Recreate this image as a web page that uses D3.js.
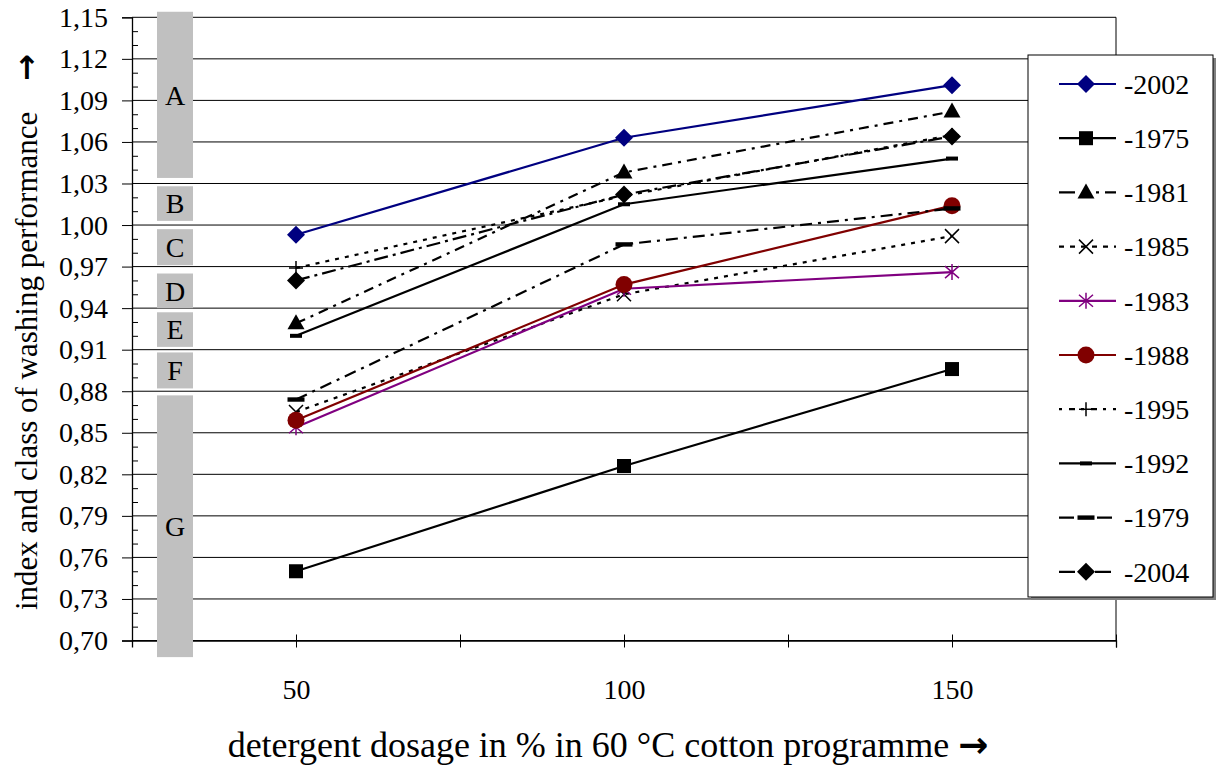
<!DOCTYPE html>
<html><head><meta charset="utf-8">
<script src="https://cdn.jsdelivr.net/npm/d3@7"></script>
<style>body{margin:0;background:#fff}svg{display:block}</style>
</head><body>
<svg id="c" width="1218" height="769"></svg>
<script>
// ---------- data ----------
const doses = [50, 100, 150];
const xTickValues = [50, 75, 100, 125, 150, 175];
const xTickLabels = [50, 100, 150];
const yTickValues = [0.70, 0.73, 0.76, 0.79, 0.82, 0.85, 0.88, 0.91, 0.94, 0.97, 1.00, 1.03, 1.06, 1.09, 1.12, 1.15];

const classNames = ["A", "B", "C", "D", "E", "F", "G"];
const classBarTop = [1.154, 1.028, 0.997, 0.965, 0.937, 0.908, 0.877];
const classBarBottom = [1.034, 1.003, 0.971, 0.940, 0.912, 0.882, 0.688];

const seriesNames = ["-2002", "-1975", "-1981", "-1985", "-1983", "-1988", "-1995", "-1992", "-1979", "-2004"];
const v2002 = [0.993, 1.063, 1.101];
const v1975 = [0.750, 0.826, 0.896];
const v1981 = [0.929, 1.038, 1.082];
const v1985 = [0.865, 0.950, 0.992];
const v1983 = [0.854, 0.954, 0.966];
const v1988 = [0.859, 0.957, 1.014];
const v1995 = [0.969, 1.021, 1.065];
const v1992 = [0.920, 1.015, 1.048];
const v1979 = [0.874, 0.986, 1.012];
const v2004 = [0.960, 1.022, 1.064];

const seriesValues = [v2002, v1975, v1981, v1985, v1983, v1988, v1995, v1992, v1979, v2004];
const seriesColors = ["#000080", "#000", "#000", "#000", "#800080", "#800000", "#000", "#000", "#000", "#000"];
const seriesMarkers = ["diamond", "square", "triangle", "x", "star", "circle", "plus", "dash", "longdash", "diamond"];
const seriesDash = [null, null, "10,6,3,6", "4,6", null, null, "4,6", null, "12,6,3,6", "14,5,3,5"];
const legendDash = [null, null, "16,10,5,6,3,6", "5,6", null, null, "3,7,6,6", null, "15,4", "16,10,4,6"];

// ---------- layout ----------
const svg = d3.select("#c");
const font = "'Liberation Serif', 'Times New Roman', 'DejaVu Serif', serif";
const x = d3.scaleLinear().domain([25, 175]).range([132, 1116]);
const y = d3.scaleLinear().domain([0.70, 1.15]).range([640.5, 17.3]);

// gridlines
svg.append("g").selectAll("line").data(yTickValues).join("line")
  .attr("x1", x(25)).attr("x2", x(175))
  .attr("y1", d => y(d)).attr("y2", d => y(d))
  .attr("stroke", "#000").attr("stroke-width", 1);
svg.append("line").attr("x1", x(175)).attr("x2", x(175)).attr("y1", y(1.15)).attr("y2", y(0.70))
  .attr("stroke", "#000").attr("stroke-width", 1);

// x axis
const xAxis = svg.append("g").attr("transform", `translate(0,${y(0.70)})`)
  .call(d3.axisBottom(x).tickValues(xTickValues).tickSizeOuter(0).tickSize(7)
    .tickFormat(d => xTickLabels.includes(d) ? d : ""));
xAxis.attr("font-family", null).attr("font-size", null);
xAxis.select(".domain").attr("stroke-width", 1.3);
xAxis.selectAll(".tick line").attr("y1", -6).attr("y2", 7);
xAxis.selectAll(".tick text").attr("y", 49).attr("dy", "0.35em").attr("fill", "#000")
  .style("font-family", font).style("font-size", "28px");

// class bars
const bars = svg.append("g");
classNames.forEach((c, i) => {
  bars.append("rect").attr("x", 157).attr("width", 36)
    .attr("y", y(classBarTop[i])).attr("height", y(classBarBottom[i]) - y(classBarTop[i]))
    .attr("fill", "#c0c0c0");
  bars.append("text").attr("x", 175).attr("y", (y(classBarTop[i]) + y(classBarBottom[i])) / 2)
    .attr("dy", "0.35em").attr("text-anchor", "middle")
    .style("font-family", font).style("font-size", "28px").text(c);
});

// y axis
const fmt = d => d.toFixed(2).replace(".", ",");
const yAxis = svg.append("g").attr("transform", `translate(${x(25)},0)`)
  .call(d3.axisLeft(y).tickValues(yTickValues).tickSizeOuter(0).tickSize(10).tickPadding(14).tickFormat(fmt));
yAxis.attr("font-family", null).attr("font-size", null);
yAxis.select(".domain").attr("stroke-width", 1.3);
yAxis.selectAll(".tick text").attr("fill", "#000").style("font-family", font).style("font-size", "28px");
const minor = d3.range(70, 116).filter(v => v % 3 !== 1).map(v => v / 100);
svg.append("g").attr("transform", `translate(${x(25)},0)`)
  .call(d3.axisRight(y).tickValues(minor).tickSize(6).tickSizeOuter(0).tickFormat(""))
  .select(".domain").remove();

function marker(g, type, color, cx, cy) {
  const m = g.append("g").attr("transform", `translate(${cx},${cy})`);
  switch (type) {
    case "diamond": m.append("path").attr("d", "M0,-9L9,0L0,9L-9,0Z").attr("fill", color); break;
    case "square": m.append("rect").attr("x", -7).attr("y", -7).attr("width", 14).attr("height", 14).attr("fill", color); break;
    case "triangle": m.append("path").attr("d", "M0,-9L8.5,6L-8.5,6Z").attr("fill", color); break;
    case "circle": m.append("circle").attr("r", 8.5).attr("fill", color); break;
    case "x": m.append("path").attr("d", "M-7,-7L7,7M-7,7L7,-7").attr("stroke", color).attr("stroke-width", 1.5); break;
    case "plus": m.append("path").attr("d", "M-7,0L7,0M0,-7L0,7").attr("stroke", color).attr("stroke-width", 1.5); break;
    case "star": m.append("path").attr("d", "M0,-8L0,8M-7,-6L7,6M-7,6L7,-6").attr("stroke", color).attr("stroke-width", 1.5); break;
    case "dash": m.append("rect").attr("x", -6).attr("y", -2).attr("width", 12).attr("height", 4).attr("fill", color); break;
    case "longdash": m.append("rect").attr("x", -8.5).attr("y", -2.2).attr("width", 17).attr("height", 4.4).attr("fill", color); break;
  }
}

// series
const line = d3.line().x((d, i) => x(doses[i])).y(d => y(d));
const plot = svg.append("g");
seriesNames.forEach((n, k) => {
  plot.append("path").datum(seriesValues[k]).attr("d", line)
    .attr("fill", "none").attr("stroke", seriesColors[k]).attr("stroke-width", 2.2)
    .attr("stroke-dasharray", seriesDash[k]);
});
seriesNames.forEach((n, k) => {
  seriesValues[k].forEach((v, i) => marker(plot, seriesMarkers[k], seriesColors[k], x(doses[i]), y(v)));
});

// legend
const lg = svg.append("g");
lg.append("rect").attr("x", 1031).attr("y", 58).attr("width", 185).attr("height", 542).attr("fill", "#808080");
lg.append("rect").attr("x", 1028).attr("y", 55).attr("width", 185).attr("height", 542)
  .attr("fill", "#fff").attr("stroke", "#000").attr("stroke-width", 1);
seriesNames.forEach((n, k) => {
  const ly = 84 + k * 54.2;
  lg.append("line").attr("x1", 1059).attr("x2", 1116).attr("y1", ly).attr("y2", ly)
    .attr("stroke", seriesColors[k]).attr("stroke-width", 2.2).attr("stroke-dasharray", legendDash[k]);
  marker(lg, seriesMarkers[k], seriesColors[k], 1086, ly);
  lg.append("text").attr("x", 1124).attr("y", ly).attr("dy", "0.35em")
    .style("font-family", font).style("font-size", "28px").text(n);
});

// axis titles
const xt = svg.append("text").attr("x", 608).attr("y", 757).attr("text-anchor", "middle")
  .style("font-family", font).style("font-size", "36px");
xt.append("tspan").text("detergent dosage in % in 60 °C cotton programme ");
xt.append("tspan").style("font-family", "DejaVu Sans").style("font-weight", "bold").style("font-size", "36px").text("→");

const yt = svg.append("text").attr("transform", "translate(37,332) rotate(-90)").attr("text-anchor", "middle")
  .style("font-family", font).style("font-size", "31px");
yt.append("tspan").text("index and class of washing performance \u2002 ");
yt.append("tspan").style("font-family", "DejaVu Sans").style("font-weight", "bold").style("font-size", "32px").text("→");
</script>
</body></html>
